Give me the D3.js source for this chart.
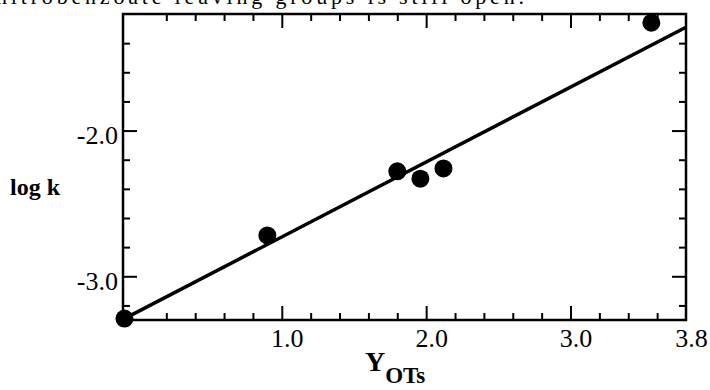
<!DOCTYPE html>
<html>
<head>
<meta charset="utf-8">
<script src="https://cdn.jsdelivr.net/npm/d3@7"></script>
<style>
  body { margin: 0; background: #fff; }
  svg { display: block; }
  text { font-family: "Liberation Serif", "Times New Roman", serif; fill: #000; }
</style>
</head>
<body>
<div id="chart"></div>
<script>
// values
var yotsValues = [-0.09, 0.90, 1.80, 1.96, 2.12, 3.56];
var logkValues = [-3.29, -2.72, -2.28, -2.33, -2.26, -1.26];
var xMajorTicks = [1.0, 2.0, 3.0, 3.8];
var yMajorTicks = [-3.0, -2.0];
var fitSlope = 0.514;
var fitIntercept = -3.244;
var fitRange = [-0.09, 3.8];

(function() {
  var width = 710, height = 390;
  var margin = {top: 14, right: 24, bottom: 70, left: 123};
  var w = width - margin.left - margin.right;
  var h = height - margin.top - margin.bottom;

  var svg = d3.select('#chart').append('svg:svg').attr('width', width).attr('height', height);

  // clipped line of page text above the figure (cut off in the reference too)
  svg.append('text').attr('x', -4).attr('y', 4).attr('font-size', 22)
    .attr('textLength', 528).attr('lengthAdjust', 'spacing')
    .text('nitrobenzoate leaving groups is still open.');

  var g = svg.append('g').attr('transform', 'translate(' + margin.left + ',' + margin.top + ')');

  var x = d3.scaleLinear().domain([-0.1, 3.8]).range([0, w]);
  var y = d3.scaleLinear().domain([-3.3, -1.2]).range([h, 0]);

  var fmt = function(d) { return d3.format('.1f')(d).replace('\u2212', '-'); };

  var xMinor = d3.range(0.2, 3.8, 0.2).filter(function(d) {
    return xMajorTicks.every(function(m) { return Math.abs(m - d) > 1e-6; });
  });
  var yMinor = d3.range(-3.2, -1.2, 0.2).filter(function(d) {
    return yMajorTicks.every(function(m) { return Math.abs(m - d) > 1e-6; });
  });

  function styleAxis(sel) {
    sel.attr('font-family', null).attr('font-size', null);
    sel.select('.domain').remove();
    sel.selectAll('line').attr('stroke', '#000').attr('stroke-width', 2);
    sel.selectAll('text').attr('font-size', 26);
  }

  // minor ticks on all four sides
  g.append('g').attr('transform', 'translate(0,' + h + ')')
    .call(d3.axisBottom(x).tickValues(xMinor).tickSize(-7).tickFormat(''))
    .call(styleAxis);
  g.append('g')
    .call(d3.axisTop(x).tickValues(xMinor).tickSize(-7).tickFormat(''))
    .call(styleAxis);
  g.append('g')
    .call(d3.axisLeft(y).tickValues(yMinor).tickSize(-7).tickFormat(''))
    .call(styleAxis);
  g.append('g').attr('transform', 'translate(' + w + ',0)')
    .call(d3.axisRight(y).tickValues(yMinor).tickSize(-7).tickFormat(''))
    .call(styleAxis);

  // major ticks with labels
  var xAxis = g.append('g').attr('transform', 'translate(0,' + h + ')')
    .call(d3.axisBottom(x).tickValues(xMajorTicks).tickSize(-14).tickPadding(9).tickFormat(fmt))
    .call(styleAxis);
  xAxis.selectAll('text').attr('dx', 5);
  xAxis.selectAll('.tick').filter(function(d) { return d === 3.8; }).select('line').remove();
  g.append('g')
    .call(d3.axisTop(x).tickValues(xMajorTicks.slice(0, 3)).tickSize(-14).tickFormat(''))
    .call(styleAxis);
  var yAxis = g.append('g')
    .call(d3.axisLeft(y).tickValues(yMajorTicks).tickSize(-14).tickPadding(5).tickFormat(fmt))
    .call(styleAxis);
  yAxis.selectAll('text').attr('dy', '0.5em');
  g.append('g').attr('transform', 'translate(' + w + ',0)')
    .call(d3.axisRight(y).tickValues(yMajorTicks).tickSize(-14).tickFormat(''))
    .call(styleAxis);

  // frame
  g.append('rect').attr('width', w).attr('height', h)
    .attr('fill', 'none').attr('stroke', '#000').attr('stroke-width', 2.5);

  // regression line
  var line = d3.line().x(function(d) { return x(d); }).y(function(d) { return y(fitIntercept + fitSlope * d); });
  g.append('path').datum(fitRange).attr('d', line)
    .attr('fill', 'none').attr('stroke', '#000').attr('stroke-width', 3.5);

  // points
  g.selectAll('circle').data(yotsValues).enter().append('circle')
    .attr('cx', function(d) { return x(d); })
    .attr('cy', function(d, i) { return y(logkValues[i]); })
    .attr('r', 9).attr('fill', '#000');

  // axis titles
  svg.append('text').attr('x', 10).attr('y', 195).attr('font-size', 24).attr('font-weight', 'bold').text('log k');
  var xt = svg.append('text').attr('x', 365).attr('y', 371).attr('font-weight', 'bold');
  xt.append('tspan').attr('font-size', 28).text('Y');
  xt.append('tspan').attr('font-size', 23).attr('dy', 12).text('OTs');
}).call(this);
</script>
</body>
</html>
